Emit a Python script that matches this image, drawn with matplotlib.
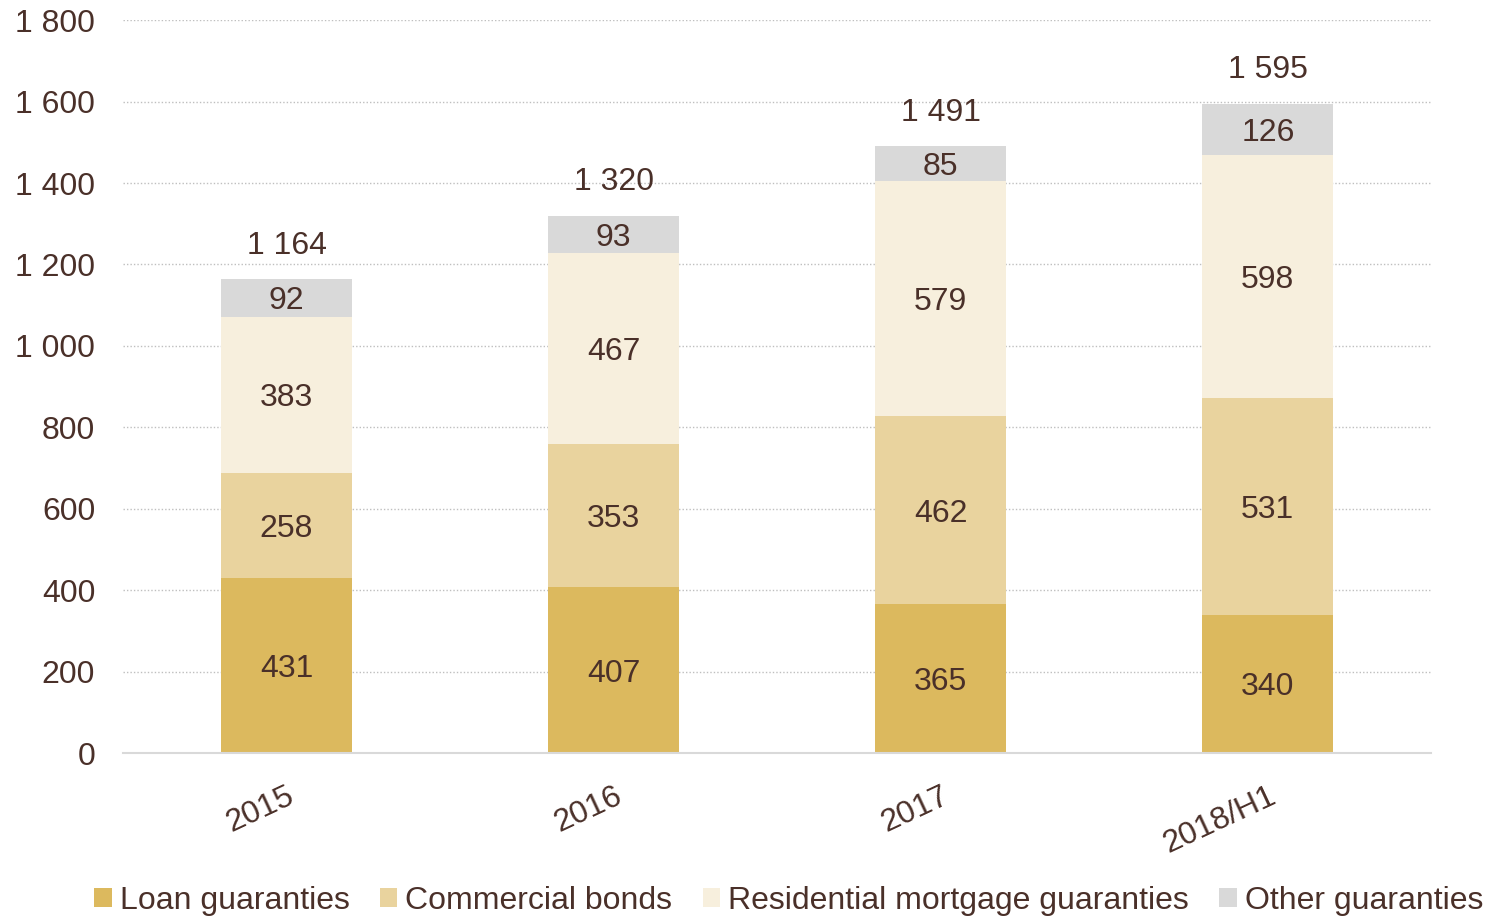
import matplotlib
matplotlib.use("Agg")
import matplotlib.pyplot as plt
import numpy as np

plt.rcParams["font.family"] = ["Liberation Sans", "DejaVu Sans"]

TXT = "#4A3029"

# data
years = ["2015", "2016", "2017", "2018/H1"]
loan = [431, 407, 365, 340]
commercial = [258, 353, 462, 531]
residential = [383, 467, 579, 598]
other = [92, 93, 85, 126]
series_names = ["Loan guaranties", "Commercial bonds",
                "Residential mortgage guaranties", "Other guaranties"]
colors = ["#DCB95E", "#E9D39E", "#F7EFDD", "#D9D9D9"]


def fmt(v):
    return f"{v:,}".replace(",", " ")


fig = plt.figure(figsize=(14.91, 9.17), dpi=100)
ax = fig.add_axes([0.0825, 0.1788, 0.8775, 0.7992])

x = np.arange(len(years))
bottom = np.zeros(len(years))
for vals, name, col in zip([loan, commercial, residential, other], series_names, colors):
    vals = np.array(vals)
    ax.bar(x, vals, 0.4, bottom=bottom, color=col, label=name, zorder=2)
    for xi, b, v in zip(x, bottom, vals):
        ax.annotate(str(v), (xi, b + v / 2), xytext=(0, -2.5), textcoords="offset points",
                    ha="center", va="center", fontsize=23, color=TXT, zorder=3)
    bottom = bottom + vals

for xi, t in zip(x, bottom):
    ax.annotate(fmt(int(t)), (xi, t), xytext=(0, 24), textcoords="offset points",
                ha="center", va="center", fontsize=23, color=TXT)

ax.set_xlim(-0.5, 3.5)
ax.set_ylim(0, 1800)
ax.set_yticks(np.arange(0, 1801, 200))
ax.set_yticklabels([fmt(v) for v in range(0, 1801, 200)])
ax.set_xticks(x)
ax.set_xticklabels(years, rotation=25, ha="right", rotation_mode="anchor")
ax.tick_params(axis="both", length=0, labelsize=23, labelcolor=TXT)
ax.tick_params(axis="y", pad=20)
ax.tick_params(axis="x", pad=20)
ax.yaxis.grid(True, linestyle=(0, (1, 1.5)), color="#BFBFBF", linewidth=1.0, zorder=0)
ax.set_axisbelow(True)
for s in ["top", "right", "left"]:
    ax.spines[s].set_visible(False)
ax.spines["bottom"].set_color("#D9D9D9")
ax.spines["bottom"].set_linewidth(1.5)

fig.legend(loc="lower center", ncol=4, frameon=False, fontsize=23,
           bbox_to_anchor=(0.529, -0.03), handlelength=0.55, handleheight=0.55,
           handletextpad=0.25, columnspacing=0.95, labelcolor=TXT)

fig.savefig("out.png", dpi=100)
